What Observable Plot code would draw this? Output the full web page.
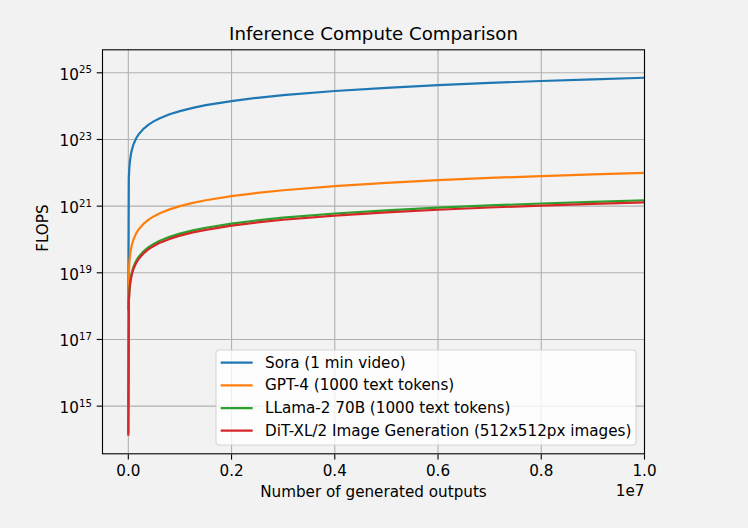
<!DOCTYPE html>
<html>
<head>
<meta charset="utf-8">
<script src="https://cdn.jsdelivr.net/npm/d3@7"></script>
<script src="https://cdn.jsdelivr.net/npm/@observablehq/plot@0.6"></script>
<style>
  html, body { margin: 0; padding: 0; background: #f2f2f2; }
  #chart svg { display: block; }
</style>
</head>
<body>
<div id="chart"></div>
<script>
// ---- data ----
const outputs = [1, 1e4, 2e4, 3e4, 5e4, 7e4, 1e5, 1.5e5, 2e5, 3e5, 4e5, 5e5, 6e5, 8e5, 1e6,
  1.25e6, 1.5e6, 2e6, 2.5e6, 3e6, 4e6, 5e6, 6e6, 7e6, 8e6, 9e6, 1e7];

const soraFlops = [7.1e17, 7.1e21, 1.42e22, 2.13e22, 3.55e22, 4.97e22, 7.1e22, 1.07e23, 1.42e23,
  2.13e23, 2.84e23, 3.55e23, 4.26e23, 5.68e23, 7.1e23, 8.9e23, 1.07e24, 1.42e24, 1.78e24, 2.13e24,
  2.84e24, 3.55e24, 4.26e24, 4.97e24, 5.68e24, 6.39e24, 7.1e24];

const gpt4Flops = [1e15, 1e19, 2e19, 3e19, 5e19, 7e19, 1e20, 1.5e20, 2e20, 3e20, 4e20, 5e20, 6e20,
  8e20, 1e21, 1.25e21, 1.5e21, 2e21, 2.5e21, 3e21, 4e21, 5e21, 6e21, 7e21, 8e21, 9e21, 1e22];

const llamaFlops = [1.5e14, 1.5e18, 3e18, 4.5e18, 7.5e18, 1.05e19, 1.5e19, 2.25e19, 3e19, 4.5e19,
  6e19, 7.5e19, 9e19, 1.2e20, 1.5e20, 1.875e20, 2.25e20, 3e20, 3.75e20, 4.5e20, 6e20, 7.5e20,
  9e20, 1.05e21, 1.2e21, 1.35e21, 1.5e21];

const ditFlops = [1.3e14, 1.3e18, 2.6e18, 3.9e18, 6.5e18, 9.1e18, 1.3e19, 1.95e19, 2.6e19, 3.9e19,
  5.2e19, 6.5e19, 7.8e19, 1.04e20, 1.3e20, 1.63e20, 1.95e20, 2.6e20, 3.25e20, 3.9e20, 5.2e20,
  6.5e20, 7.8e20, 9.1e20, 1.04e21, 1.17e21, 1.3e21];

const seriesNames = [
  "Sora (1 min video)",
  "GPT-4 (1000 text tokens)",
  "LLama-2 70B (1000 text tokens)",
  "DiT-XL/2 Image Generation (512x512px images)"
];
const seriesValues = [soraFlops, gpt4Flops, llamaFlops, ditFlops];
const seriesColors = ["#1f77b4", "#ff7f0e", "#2ca02c", "#d62728"];

const xTicks = [0, 2e6, 4e6, 6e6, 8e6, 1e7];
const xTickLabels = ["0.0", "0.2", "0.4", "0.6", "0.8", "1.0"];
const yTicks = [1e15, 1e17, 1e19, 1e21, 1e23, 1e25];
const yTickExponents = ["15", "17", "19", "21", "23", "25"];

const titleText = "Inference Compute Comparison";
const xLabelText = "Number of generated outputs";
const xOffsetText = "1e7";
const yLabelText = "FLOPS";

// ---- table for the library ----
const rows = [];
seriesValues.forEach((vals, s) => {
  vals.forEach((v, i) => rows.push({series: seriesNames[s], n: outputs[i], flops: v}));
});

const FS = 15.2;
const gridStyle = {stroke: "#b0b0b0", strokeOpacity: 1, strokeWidth: 1.1};

const svg = Plot.plot({
  width: 748,
  height: 528,
  marginLeft: 102,
  marginRight: 104,
  marginTop: 49.3,
  marginBottom: 74.7,
  style: {
    background: "#f2f2f2",
    fontFamily: "'DejaVu Sans', sans-serif",
    fontSize: FS + "px",
    color: "black",
    overflow: "visible",
    maxWidth: "none"
  },
  x: {domain: [-5e5, 1e7]},
  y: {type: "log", domain: [10 ** 13.57, 10 ** 25.69]},
  color: {domain: seriesNames, range: seriesColors},
  marks: [
    Plot.gridX(xTicks, gridStyle),
    Plot.gridY(yTicks, gridStyle),
    Plot.line(rows, {x: "n", y: "flops", z: "series", stroke: "series", strokeWidth: 2.2,
      strokeLinecap: "butt"}),
    Plot.frame({stroke: "black", strokeWidth: 1.1}),
    Plot.axisX(xTicks, {
      tickSize: 5.3, tickPadding: 5.3, strokeWidth: 1.1, label: null,
      tickFormat: d => xTickLabels[xTicks.indexOf(d)], fontSize: FS, dy: 1
    }),
    Plot.axisY(yTicks, {
      tickSize: 5.3, tickPadding: 5.3, strokeWidth: 1.1, label: null,
      tickFormat: d => "10" + yTickExponents[yTicks.indexOf(d)], fontSize: FS
    }),
    Plot.text([titleText], {frameAnchor: "top", dy: -15.5, fontSize: 18.2, lineAnchor: "middle"}),
    Plot.text([xLabelText], {frameAnchor: "bottom", dy: 38.5, fontSize: FS, lineAnchor: "middle"}),
    Plot.text([xOffsetText], {frameAnchor: "bottom-right", dy: 37.5, textAnchor: "end", fontSize: FS, lineAnchor: "middle"}),
    Plot.text([yLabelText], {frameAnchor: "left", dx: -59, rotate: -90, fontSize: FS, lineAnchor: "middle"})
  ]
});

// superscript exponents on the y tick labels (mathtext style)
d3.select(svg).selectAll('g[aria-label="y-axis tick label"] text').each(function () {
  const t = d3.select(this);
  const exp = this.textContent.slice(2);
  t.text(null).attr("y", 6.7);
  t.append("tspan").text("10");
  t.append("tspan").attr("dy", -6.2).attr("font-size", "10.2px").text(exp);
});

// legend (inside the plot, lower right)
const leg = d3.select(svg).append("g").attr("aria-label", "legend").attr("text-anchor", "start");
const box = {x: 216, y: 350, w: 420, h: 95};
leg.append("rect")
  .attr("x", box.x).attr("y", box.y).attr("width", box.w).attr("height", box.h)
  .attr("rx", 3.5).attr("fill", "white").attr("fill-opacity", 0.8)
  .attr("stroke", "#cccccc").attr("stroke-opacity", 0.8).attr("stroke-width", 1.1);
seriesNames.forEach((name, i) => {
  const cy = 362.7 + i * 22.67;
  leg.append("line").attr("x1", 220.7).attr("x2", 252.7).attr("y1", cy).attr("y2", cy)
    .attr("stroke", seriesColors[i]).attr("stroke-width", 2.2);
  leg.append("text").attr("x", 265).attr("y", cy + 4.8).attr("text-anchor", "start")
    .attr("font-size", FS + "px").attr("fill", "black").text(name);
});

document.getElementById("chart").appendChild(svg);
</script>
</body>
</html>
